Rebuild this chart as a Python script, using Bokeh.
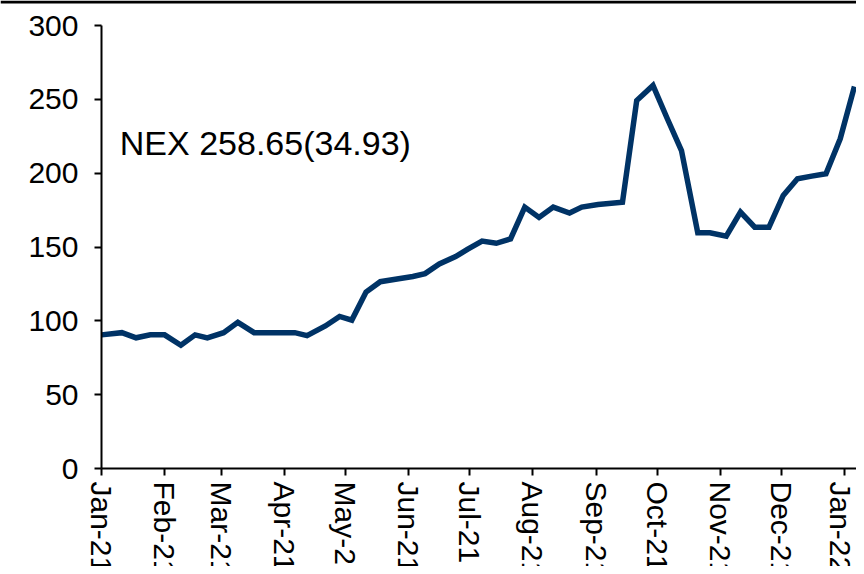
import math
import pandas as pd
from bokeh.plotting import figure
from bokeh.models import (ColumnDataSource, MonthsTicker, Range1d, Label,
                          FixedTicker, DatetimeTickFormatter, BoxAnnotation)
from bokeh.embed import file_html
from bokeh.resources import INLINE

# ---- data ----
dates = [
    "2021-01-01", "2021-01-11", "2021-01-18", "2021-01-25", "2021-02-01",
    "2021-02-09", "2021-02-16", "2021-02-22", "2021-03-02", "2021-03-09",
    "2021-03-17", "2021-03-24", "2021-03-31", "2021-04-06", "2021-04-12",
    "2021-04-21", "2021-04-28", "2021-05-04", "2021-05-11", "2021-05-18",
    "2021-05-27", "2021-06-03", "2021-06-09", "2021-06-16", "2021-06-24",
    "2021-06-30", "2021-07-07", "2021-07-14", "2021-07-21", "2021-07-28",
    "2021-08-04", "2021-08-11", "2021-08-19", "2021-08-25", "2021-09-02",
    "2021-09-14", "2021-09-21", "2021-09-29", "2021-10-06", "2021-10-13",
    "2021-10-21", "2021-10-27", "2021-11-04", "2021-11-11", "2021-11-18",
    "2021-11-25", "2021-12-02", "2021-12-09", "2021-12-16", "2021-12-23",
    "2021-12-30", "2022-01-06",
]
values = [
    90.5, 92.0, 88.5, 90.5, 90.5,
    83.5, 90.5, 88.5, 92.0, 99.0,
    92.0, 92.0, 92.0, 92.0, 90.0,
    96.5, 103.0, 100.5, 119.5, 126.5,
    128.5, 130.0, 132.0, 138.5, 143.5,
    148.5, 154.0, 152.5, 155.5, 177.0,
    170.0, 177.0, 173.0, 177.0, 178.8,
    180.3, 249.2, 259.4, 237.0, 215.3,
    159.6, 159.6, 157.3, 173.6, 163.4,
    163.4, 184.9, 196.2, 198.0, 199.6,
    223.3, 258.65,
]
y_ticks = [0, 50, 100, 150, 200, 250, 300]
annotation_text = "NEX 258.65(34.93)"

df = pd.DataFrame({"date": pd.to_datetime(dates), "value": values})
src = ColumnDataSource(df)

FONT = "Liberation Sans"
W, H = 856, 566

# layout (pixels): axis origin position inside the canvas, and scales
left_px, top_px, zero_px = 101, 25, 468
px_per_day = 2.035
px_per_unit = (zero_px - top_px) / 300.0

DAY_MS = 86400000.0
t0 = pd.Timestamp("2021-01-01").timestamp() * 1000
x_start = t0 - left_px / px_per_day * DAY_MS
x_end = t0 + (W - left_px) / px_per_day * DAY_MS
y_top = 300 + top_px / px_per_unit
y_bottom = -(H - zero_px) / px_per_unit

def ms(d):
    return pd.Timestamp(d).timestamp() * 1000

p = figure(width=W, height=H, output_backend="svg", toolbar_location=None,
           x_axis_type="datetime",
           x_range=Range1d(x_start, x_end), y_range=Range1d(y_bottom, y_top),
           min_border=0, min_border_left=0, min_border_right=0,
           min_border_top=0, min_border_bottom=0)

p.line("date", "value", source=src, line_color="#003366", line_width=5.5,
       line_join="miter")

p.xaxis.fixed_location = 0
p.yaxis.fixed_location = t0
p.xaxis.bounds = (t0, x_end)
p.yaxis.bounds = (0, 300)

p.xaxis.ticker = MonthsTicker(months=list(range(12)))
p.xaxis.formatter = DatetimeTickFormatter(days="%b-%y", months="%b-%y",
                                          years="%b-%y")
p.xaxis.major_label_orientation = -math.pi / 2
p.yaxis.ticker = FixedTicker(ticks=y_ticks)

p.grid.visible = False
p.outline_line_color = None
p.background_fill_color = "white"
p.border_fill_color = "white"

for ax in (p.xaxis, p.yaxis):
    ax.axis_line_color = "black"
    ax.axis_line_width = 2
    ax.major_tick_line_color = "black"
    ax.major_tick_line_width = 2
    ax.major_tick_out = 7
    ax.major_tick_in = 0
    ax.minor_tick_line_color = None
    ax.major_label_text_font = FONT
    ax.major_label_text_font_size = "30px"
    ax.major_label_text_color = "black"

p.yaxis.major_label_standoff = 16
p.xaxis.major_label_standoff = 6

p.add_layout(Label(x=ms("2021-01-10"), y=220.5, text=annotation_text,
                   text_font=FONT, text_font_size="34px", text_color="black",
                   text_baseline="alphabetic", text_align="left"))

# thin black rule along the top edge
p.add_layout(BoxAnnotation(left=x_start, right=x_end, top=y_top,
                           bottom=y_top - 3 / px_per_unit,
                           fill_color="black", fill_alpha=1.0,
                           line_color=None))

open("out.html", "w").write(file_html(p, INLINE))
